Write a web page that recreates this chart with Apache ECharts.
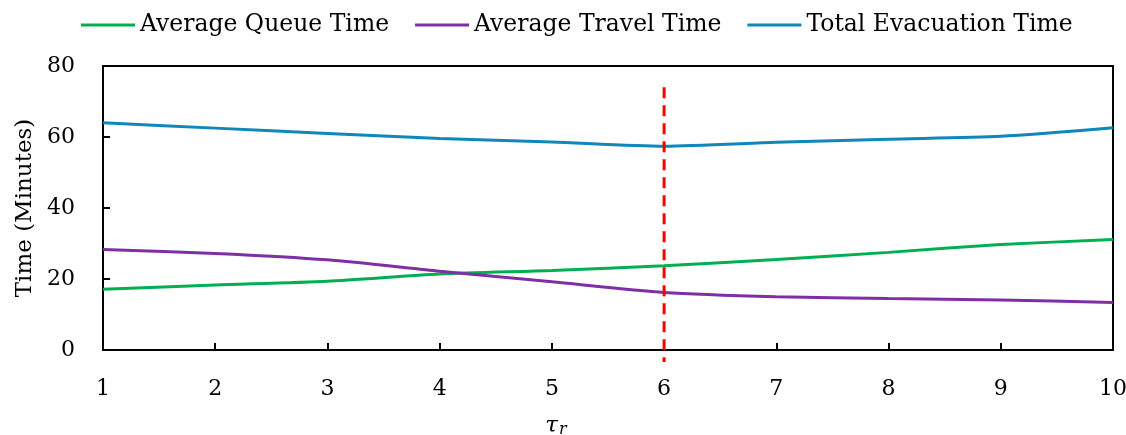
<!DOCTYPE html>
<html>
<head>
<meta charset="utf-8">
<script src="https://cdn.jsdelivr.net/npm/echarts@6/dist/echarts.min.js"></script>
<style>html,body{margin:0;padding:0;background:#fff}#c{width:1126px;height:435px}</style>
</head>
<body>
<div id="c"></div>
<script>
const xValues = [1, 2, 3, 4, 5, 6, 7, 8, 9, 10];
const queueTime = [17.1, 18.3, 19.4, 21.4, 22.4, 23.7, 25.5, 27.5, 29.7, 31.1];
const travelTime = [28.3, 27.2, 25.4, 22.2, 19.2, 16.2, 15.0, 14.5, 14.1, 13.4];
const totalTime = [64.0, 62.5, 61.0, 59.6, 58.6, 57.4, 58.5, 59.4, 60.2, 62.6];
const markerX = 6;
const markerRange = [74, -3.4];
const seriesNames = ['Average Queue Time', 'Average Travel Time', 'Total Evacuation Time'];
const seriesColors = ['#00B050', '#7F2FA5', '#0F87B8'];

const FONT = 'DejaVu Serif';
const pair = arr => xValues.map((x, i) => [x, arr[i]]);
const mkSeries = (name, data, color) => ({
  name, type: 'line', data: pair(data), smooth: 0.25, showSymbol: false,
  lineStyle: { color, width: 3 }, itemStyle: { color }
});

const chart = echarts.init(document.getElementById('c'));
chart.setOption({
  animation: false,
  backgroundColor: '#fff',
  legend: {
    data: seriesNames,
    top: 8, left: 76,
    icon: 'rect', itemWidth: 54, itemHeight: 3, itemGap: 26,
    textStyle: { fontFamily: FONT, fontSize: 23.5, color: '#000' }
  },
  grid: { left: 103, right: 13, top: 66, bottom: 85, outerBoundsMode: 'none', containLabel: false,
    show: true, borderColor: '#000', borderWidth: 2, backgroundColor: 'transparent' },
  xAxis: {
    type: 'value', min: 1, max: 10, interval: 1,
    axisLine: { show: true, lineStyle: { color: '#000', width: 2 } },
    axisTick: { show: true, inside: true, length: 7, lineStyle: { color: '#000', width: 2 } },
    axisLabel: { fontFamily: FONT, fontSize: 22, color: '#000', margin: 28 },
    splitLine: { show: false },
    name: '{t|τ}{s|r}', nameLocation: 'middle', nameGap: 64,
    nameTextStyle: { padding: [0, 104, 0, 0], rich: {
      t: { fontFamily: FONT, fontSize: 23, fontStyle: 'italic', color: '#000' },
      s: { fontFamily: FONT, fontSize: 16, fontStyle: 'italic', color: '#000', verticalAlign: 'bottom', padding: [8, 0, 0, 1] }
    } }
  },
  yAxis: {
    type: 'value', min: 0, max: 80, interval: 20,
    axisLine: { show: true, lineStyle: { color: '#000', width: 2 } },
    axisTick: { show: true, inside: true, length: 7, lineStyle: { color: '#000', width: 2 } },
    axisLabel: { fontFamily: FONT, fontSize: 22, color: '#000', margin: 28 },
    splitLine: { show: false },
    name: 'Time (Minutes)', nameLocation: 'middle', nameGap: 64,
    nameTextStyle: { fontFamily: FONT, fontSize: 23, color: '#000' }
  },
  series: [
    mkSeries(seriesNames[0], queueTime, seriesColors[0]),
    mkSeries(seriesNames[1], travelTime, seriesColors[1]),
    mkSeries(seriesNames[2], totalTime, seriesColors[2]),
    {
      name: 'marker', type: 'line', data: markerRange.map(v => [markerX, v]),
      showSymbol: false, clip: false, silent: true, z: 5,
      lineStyle: { color: '#FF0000', width: 3, type: [11, 7] }
    }
  ]
});
</script>
</body>
</html>
